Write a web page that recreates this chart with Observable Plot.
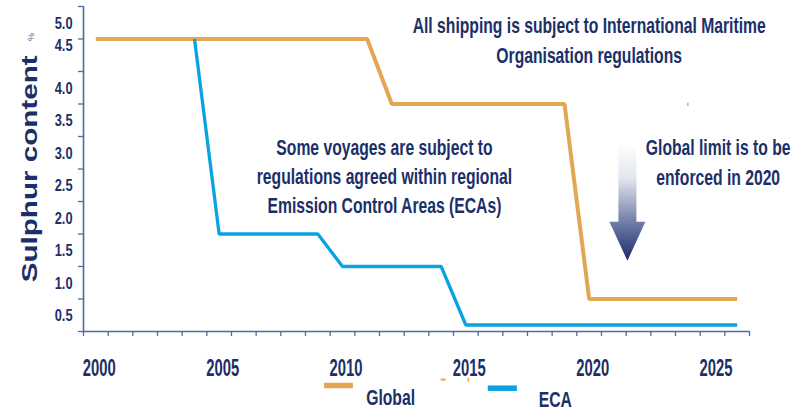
<!DOCTYPE html>
<html><head><meta charset="utf-8">
<script src="https://cdn.jsdelivr.net/npm/d3@7"></script>
<script src="https://cdn.jsdelivr.net/npm/@observablehq/plot@0.6"></script>
<style>
html,body{margin:0;padding:0;background:#fff;}
#chart svg{display:block}
</style></head><body><div id="chart"></div>
<script>
// ---- data ----
const globalYears = [2000, 2011, 2012, 2019, 2020, 2026];
const globalSulphur = [4.5, 4.5, 3.5, 3.5, 0.5, 0.5];
const ecaYears = [2004, 2005, 2009, 2010, 2014, 2015, 2026];
const ecaSulphur = [4.5, 1.5, 1.5, 1.0, 1.0, 0.1, 0.1];
const yTickValues = [0, 0.5, 1, 1.5, 2, 2.5, 3, 3.5, 4, 4.5, 5];
const yLabelValues = [0.5, 1, 1.5, 2, 2.5, 3, 3.5, 4, 4.5, 5];
const xLabelYears = [2000, 2005, 2010, 2015, 2020, 2025];
const xTickYears = d3.range(1999.5, 2027, 1);
const seriesNames = ["Global", "ECA"];
const seriesColors = ["#E3A653", "#08A3E0"];
const yTitle = "Sulphur content";
const yUnit = "%";
const note1 = ["All shipping is subject to International Maritime", "Organisation regulations"];
const note2 = ["Some voyages are subject to", "regulations agreed within regional", "Emission Control Areas (ECAs)"];
const note3 = ["Global limit is to be", "enforced in 2020"];

// ---- tables ----
const globalData = globalYears.map((year, i) => ({year, value: globalSulphur[i]}));
const ecaData = ecaYears.map((year, i) => ({year, value: ecaSulphur[i]}));
const lines = (arr) => arr.map((text, i) => ({text, i}));

const textColor = "#1B2F68";
const axisColor = "#4C6BA3";
const font = "'Liberation Sans', Arial, sans-serif";
const noteStyle = {fontSize: 21.5, fontWeight: "bold", fill: textColor, textAnchor: "middle", lineAnchor: "middle"};

const chart = Plot.plot({
  width: 805, height: 412,
  marginLeft: 83, marginRight: 56, marginTop: 6, marginBottom: 81,
  x: {domain: [1999.5, 2026.5], label: null},
  y: {domain: [0, 5], label: null},
  style: {fontFamily: font, background: "#fff", color: textColor},
  marks: [
    // axes
    Plot.axisY({ticks: yTickValues, tickSize: 5, tickFormat: () => "", label: null, stroke: axisColor, strokeWidth: 1.3}),
    Plot.axisY({ticks: yLabelValues.filter(v => v !== 4.5), tickSize: 0, tickPadding: 11, dy: 17, label: null,
      tickFormat: d => d.toFixed(1), fontSize: 16, fontWeight: "bold", fill: textColor}),
    Plot.axisY({ticks: yLabelValues.filter(v => v === 4.5), tickSize: 0, tickPadding: 11, dy: 7, label: null,
      tickFormat: d => d.toFixed(1), fontSize: 16, fontWeight: "bold", fill: textColor}),
    Plot.axisX({ticks: xTickYears, tickSize: 5, tickFormat: () => "", label: null, stroke: axisColor, strokeWidth: 1.3}),
    Plot.axisX({ticks: xLabelYears, tickSize: 0, tickPadding: 27, dx: 3.5, label: null,
      tickFormat: d => String(d), fontSize: 24.5, fontWeight: "bold", fill: textColor}),
    Plot.ruleX([1999.5], {stroke: axisColor, strokeWidth: 1.6}),
    Plot.ruleY([0], {stroke: axisColor, strokeWidth: 1.6}),
    // y title
    Plot.text([yTitle], {frameAnchor: "left", dx: -47, y: 2.503, rotate: -90, textAnchor: "middle",
      lineAnchor: "bottom", fontSize: 21.5, fontWeight: "bold", fill: textColor}),
    Plot.text([yUnit], {frameAnchor: "left", dx: -52.5, y: 4.53, rotate: -90, textAnchor: "middle",
      lineAnchor: "middle", fontSize: 9, fill: "#4a5a88"}),
    // series
    Plot.line(globalData, {x: "year", y: "value", stroke: seriesColors[0], strokeWidth: 4,
      strokeLinejoin: "miter", strokeLinecap: "butt"}),
    Plot.line(ecaData, {x: "year", y: "value", stroke: seriesColors[1], strokeWidth: 3.3,
      strokeLinejoin: "miter", strokeLinecap: "butt"}),
    // small stray marks present in the original
    Plot.ruleX([2024.0], {y1: 3.46, y2: 3.51, stroke: seriesColors[0], strokeWidth: 1.5}),
    Plot.ruleY([-0.74], {x1: 2014.0, x2: 2014.2, stroke: seriesColors[0], strokeWidth: 2}),
    Plot.ruleX([2015.1], {y1: -0.72, y2: -0.78, stroke: seriesColors[0], strokeWidth: 1.5}),
    // annotations
    Plot.text(lines(note1), {x: 2020.0, y: d => 4.695 - d.i * 0.461, text: "text", ...noteStyle}),
    Plot.text(lines(note2), {x: 2011.7, y: d => 2.818 - d.i * 0.446, text: "text", ...noteStyle}),
    Plot.text(lines(note3), {x: 2025.23, y: d => 2.815 - d.i * 0.461, text: "text", ...noteStyle}),
    // legend
    Plot.ruleY([-0.831], {x1: 2009.27, x2: 2010.44, stroke: seriesColors[0], strokeWidth: 5.5}),
    Plot.ruleY([-0.872], {x1: 2015.91, x2: 2017.09, stroke: seriesColors[1], strokeWidth: 5.5}),
    Plot.text([seriesNames[0]], {x: 2011.95, y: -1.03, ...noteStyle}),
    Plot.text([seriesNames[1]], {x: 2018.63, y: -1.05, ...noteStyle})
  ]
});

document.getElementById("chart").append(chart);

const ns = "http://www.w3.org/2000/svg";
// condensed look of the original lettering
function squeezeLen(t, f) {
  const L = t.getComputedTextLength();
  if (L > 0) {
    t.setAttribute("textLength", (L * f).toFixed(2));
    t.setAttribute("lengthAdjust", "spacingAndGlyphs");
  }
}
function squeezeX(t, f) {
  // horizontal compression about the text's anchor point (centre)
  const r = t.getBoundingClientRect();
  const cx = r.left + r.width / 2;
  const ctm = t.parentNode.getScreenCTM();
  const p = chart.createSVGPoint(); p.x = cx; p.y = r.top;
  const lp = p.matrixTransform(ctm.inverse());
  const g = document.createElementNS(ns, "g");
  g.setAttribute("transform", `translate(${lp.x.toFixed(2)},0) scale(${f},1) translate(${(-lp.x).toFixed(2)},0)`);
  t.parentNode.insertBefore(g, t);
  g.append(t);
}
const noteTexts = new Set([...note1, ...note2, ...note3, ...seriesNames]);
const xLabelTexts = new Set(xLabelYears.map(String));
const yLabelTexts = new Set(yLabelValues.map(d => d.toFixed(1)));
Array.from(chart.querySelectorAll("text")).forEach(t => {
  const s = t.textContent;
  if (noteTexts.has(s)) squeezeX(t, 0.73);
  else if (xLabelTexts.has(s)) squeezeLen(t, 0.605);
  else if (yLabelTexts.has(s)) squeezeLen(t, 0.8);
  else if (s === yTitle) squeezeLen(t, 1.377);
});

// gradient arrow pointing down to the 2020 limit
const xs = chart.scale("x").apply, ys = chart.scale("y").apply;
const defs = document.createElementNS(ns, "defs");
const grad = document.createElementNS(ns, "linearGradient");
grad.setAttribute("id", "arrowGrad");
grad.setAttribute("x1", "0"); grad.setAttribute("y1", "0");
grad.setAttribute("x2", "0"); grad.setAttribute("y2", "1");
[["0", "#ffffff"], ["0.3", "#e3e6ee"], ["0.62", "#7f8bb3"], ["1", "#1c2a68"]].forEach(([o, c]) => {
  const s = document.createElementNS(ns, "stop");
  s.setAttribute("offset", o); s.setAttribute("stop-color", c);
  grad.append(s);
});
defs.append(grad);
chart.prepend(defs);
const ax = 2021.57, aTop = 2.89, aHead = 1.68, aTip = 1.08, sw = 0.365, hw = 0.73;
const pts = [[ax - sw, aTop], [ax + sw, aTop], [ax + sw, aHead], [ax + hw, aHead], [ax, aTip],
             [ax - hw, aHead], [ax - sw, aHead]].map(([x, y]) => `${xs(x).toFixed(1)},${ys(y).toFixed(1)}`);
const poly = document.createElementNS(ns, "polygon");
poly.setAttribute("points", pts.join(" "));
poly.setAttribute("fill", "url(#arrowGrad)");
chart.append(poly);
</script>
</body></html>
